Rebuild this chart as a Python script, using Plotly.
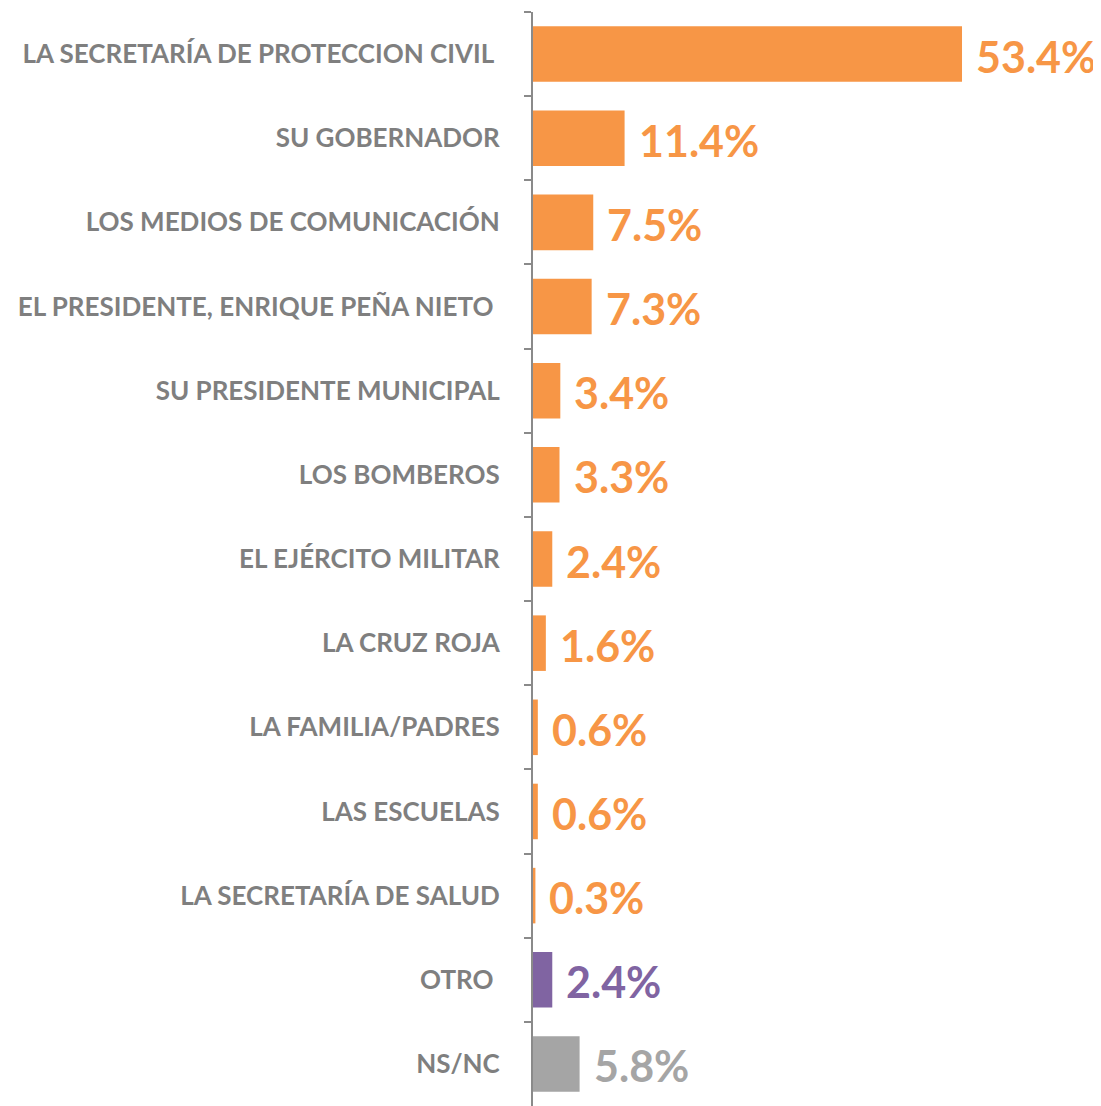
import plotly.graph_objects as go

categories = [
    "LA SECRETARÍA DE PROTECCION CIVIL\u00a0",
    "SU GOBERNADOR",
    "LOS MEDIOS DE COMUNICACIÓN",
    "EL PRESIDENTE, ENRIQUE PEÑA NIETO\u00a0",
    "SU PRESIDENTE MUNICIPAL",
    "LOS BOMBEROS",
    "EL EJÉRCITO MILITAR",
    "LA CRUZ ROJA",
    "LA FAMILIA/PADRES",
    "LAS ESCUELAS",
    "LA SECRETARÍA DE SALUD",
    "OTRO\u00a0",
    "NS/NC",
]
values = [53.4, 11.4, 7.5, 7.3, 3.4, 3.3, 2.4, 1.6, 0.6, 0.6, 0.3, 2.4, 5.8]
ORANGE = "#F79646"
PURPLE = "#8064A2"
GRAY = "#A5A5A5"
colors = [ORANGE] * 11 + [PURPLE, GRAY]

fig = go.Figure()
fig.add_trace(go.Bar(
    x=values, y=categories, orientation="h",
    marker=dict(color=colors, line=dict(width=0)),
    hoverinfo="skip",
))

for c, v, col in zip(categories, values, colors):
    fig.add_annotation(
        x=v, y=c, text=f"{v:.1f}%", showarrow=False,
        xanchor="left", yanchor="middle", xshift=12, yshift=-2,
        font=dict(family="Lato", size=43, color=col, weight="bold"),
    )

# page body has an 8px default margin; compensate so the chart lands where the reference is
fig.update_layout(
    width=1093, height=1098,
    margin=dict(l=525, r=0, t=4, b=0),
    paper_bgcolor="white", plot_bgcolor="white",
    bargap=0.34,
    showlegend=False,
    xaxis=dict(range=[0, 70.7], visible=False, fixedrange=True),
    yaxis=dict(
        autorange="reversed",
        showline=True, linecolor="#8A8A8A", linewidth=2,
        ticks="outside", tickson="boundaries", ticklen=7,
        tickcolor="#8A8A8A", tickwidth=2,
        ticklabelstandoff=26,
        tickfont=dict(family="Lato", size=26, color="#7F7F7F", weight="bold"),
        showgrid=False, zeroline=False,
    ),
)

fig.write_html("out.html")
